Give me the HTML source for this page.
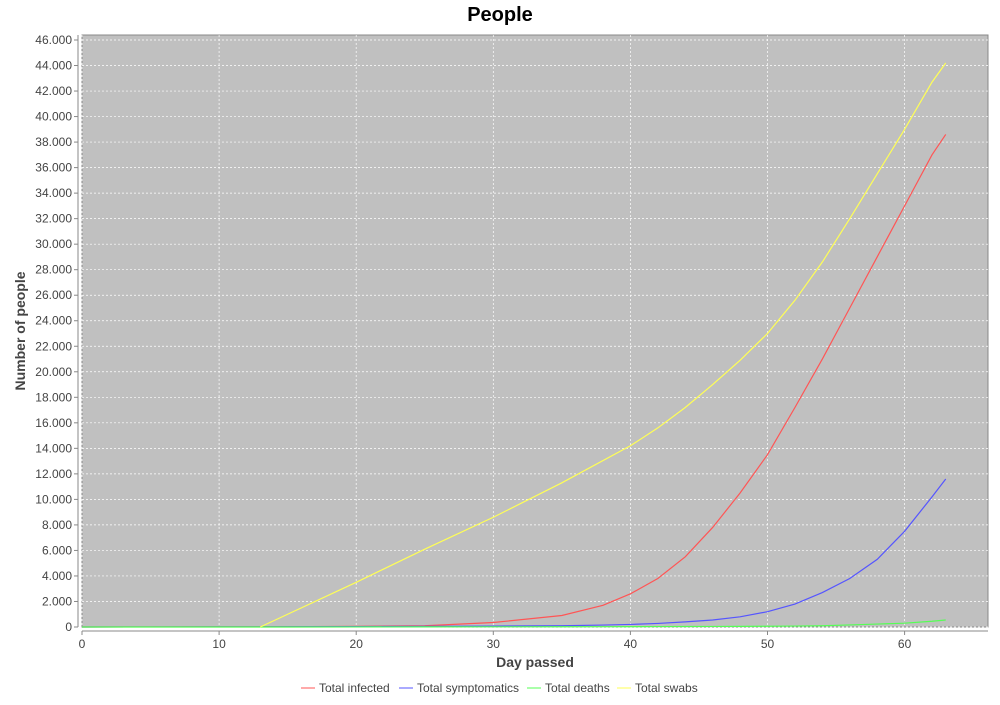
<!DOCTYPE html>
<html><head><meta charset="utf-8"><style>
body{margin:0;background:#fff;font-family:"Liberation Sans","DejaVu Sans",sans-serif}
</style></head><body>
<svg width="1000" height="700" xmlns="http://www.w3.org/2000/svg">
<text x="500" y="21" text-anchor="middle" font-size="20" font-weight="bold">People</text>
<rect x="82" y="35" width="906" height="592" fill="#c0c0c0" stroke="#888"/>
<g id="grid"></g><g id="axes"></g><g id="series"></g>
<text x="535" y="667" text-anchor="middle" font-size="14" font-weight="bold" fill="#444">Day passed</text>
<text transform="translate(25,331) rotate(-90)" text-anchor="middle" font-size="14" font-weight="bold" fill="#444">Number of people</text>
<g id="legend" font-size="12" fill="#444"></g>
</svg>
<script>
const days=[0,5,10,13,15,20,25,30,35,38,40,42,44,46,48,50,52,54,56,58,60,62,63];
const infected=[0,5,10,15,20,50,100,350,900,1700,2600,3800,5500,7800,10500,13500,17200,21000,25000,29000,33000,37000,38600];
const symptomatic=[0,5,10,15,20,30,50,70,100,150,200,280,400,550,800,1200,1800,2700,3800,5300,7500,10200,11600];
const deaths=[0,0,0,0,0,5,10,15,20,25,30,35,40,45,50,60,75,100,160,230,300,450,550];
const swabDays=[13,15,20,25,30,35,40,42,44,46,48,50,52,54,56,58,60,62,63];
const swabs=[0,1000,3500,6100,8600,11300,14200,15600,17200,19000,20900,23000,25600,28600,32000,35500,39000,42700,44200];
const xTicks=[0,10,20,30,40,50,60];
const yTicks=[0,2000,4000,6000,8000,10000,12000,14000,16000,18000,20000,22000,24000,26000,28000,30000,32000,34000,36000,38000,40000,42000,44000,46000];
const NS="http://www.w3.org/2000/svg";
const X=d=>82+d*13.71, Y=v=>627-v*0.012761;
function mk(p,t,a){const e=document.createElementNS(NS,t);for(const k in a)e.setAttribute(k,a[k]);document.getElementById(p).appendChild(e);return e;}
const fmt=v=>String(v).replace(/\B(?=(\d{3})+(?!\d))/g,'.');
xTicks.forEach(t=>{
 const g=mk('grid','line',{x1:X(t),x2:X(t),y1:35,y2:627,stroke:'#fff','stroke-width':0.7,'stroke-dasharray':'2,2'});
 
 mk('axes','line',{x1:X(t),x2:X(t),y1:631,y2:635,stroke:'#888'});
 const l=mk('axes','text',{x:X(t),y:648,'text-anchor':'middle','font-size':12,fill:'#444'});l.textContent=t;
 
});
yTicks.forEach(t=>{
 const g=mk('grid','line',{x1:82,x2:988,y1:Y(t),y2:Y(t),stroke:'#fff','stroke-width':0.7,'stroke-dasharray':'2,2'});
 
 mk('axes','line',{x1:74,x2:78,y1:Y(t),y2:Y(t),stroke:'#888'});
 const l=mk('axes','text',{x:72,y:Y(t)+4,'text-anchor':'end','font-size':12,fill:'#444'});l.textContent=fmt(t);
 
});
mk('axes','line',{x1:82,x2:988,y1:631,y2:631,stroke:'#888'});
mk('axes','line',{x1:78,x2:78,y1:35,y2:627,stroke:'#888'});
const ser=[['total-infected',days,infected,'#ff5555','Total infected'],['total-symptomatics',days,symptomatic,'#5555ff','Total symptomatics'],['total-deaths',days,deaths,'#55ff55','Total deaths'],['total-swabs',swabDays,swabs,'#ffff55','Total swabs']];
ser.forEach(s=>{
 const p=mk('series','polyline',{points:s[1].map((d,i)=>X(d)+','+Y(s[2][i])).join(' '),fill:'none',stroke:s[3],'stroke-width':1.2});
 
});
const lx=[301,399,527,617];
ser.forEach((s,i)=>{
 const g=mk('legend','g',{});
 
 const ln=document.createElementNS(NS,'line');ln.setAttribute('x1',lx[i]);ln.setAttribute('x2',lx[i]+14);ln.setAttribute('y1',688);ln.setAttribute('y2',688);ln.setAttribute('stroke',s[3]);g.appendChild(ln);
 const t=document.createElementNS(NS,'text');t.setAttribute('x',lx[i]+18);t.setAttribute('y',692);t.textContent=s[4];g.appendChild(t);
});
</script>
</body></html>
